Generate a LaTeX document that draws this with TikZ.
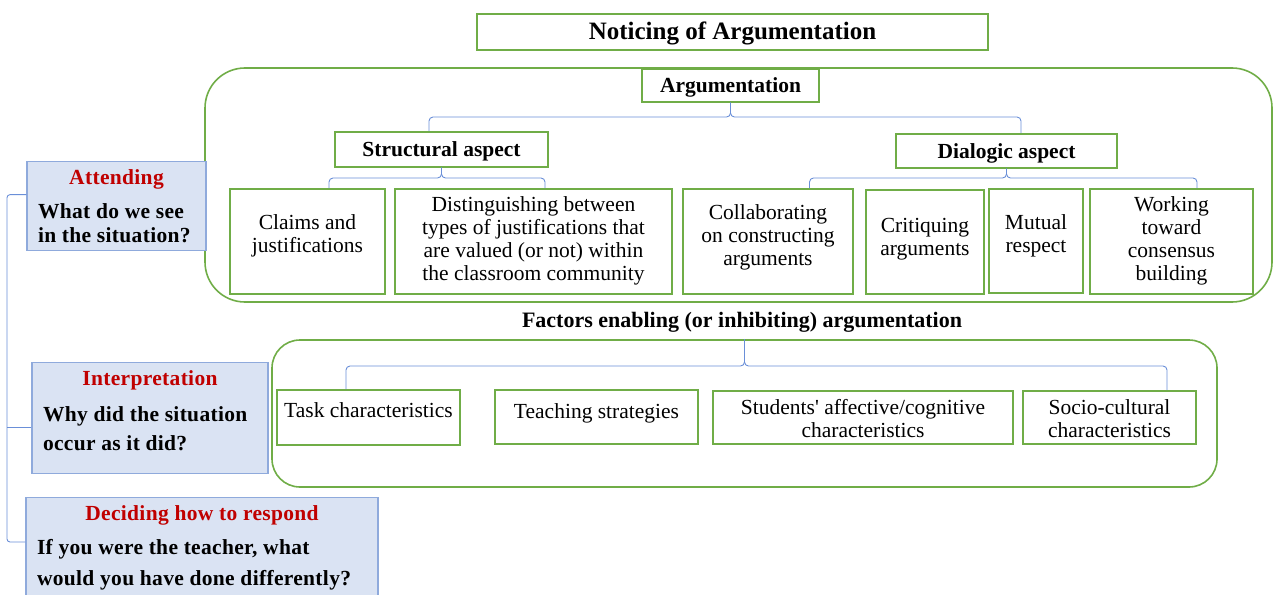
\documentclass[tikz,border=0pt]{standalone}
\usepackage{fontspec}
\setmainfont{Liberation Serif}
\newfontfamily\qf{Liberation Serif}
\definecolor{G}{HTML}{70AD47}
\definecolor{BF}{HTML}{DAE3F3}
\definecolor{BD}{HTML}{8FAADC}
\definecolor{BL}{HTML}{6A8FD8}
\definecolor{R}{HTML}{C00000}
\newcommand{\rg}{\fontsize{21.5}{23}\selectfont}
\newcommand{\bd}{\fontsize{21.5}{23}\selectfont\bfseries}
\newcommand{\tc}[1]{\begin{tabular}[t]{@{}c@{}}#1\end{tabular}}
\newcommand{\tlft}[1]{\begin{tabular}[t]{@{}l@{}}#1\end{tabular}}
\begin{document}
\begin{tikzpicture}[x=1pt,y=-1pt,
  gbox/.style={draw=G,line width=1.6pt,fill=white,inner sep=0pt,font=\rg},
  hbox/.style={gbox,font=\bd},
  frame/.style={draw=G,line width=1.6pt,inner sep=0pt},
  bbox/.style={draw=BD,fill=BF,line width=1.3pt,inner sep=0pt,font=\bd\addfontfeature{LetterSpace=1.5}},
  brace/.style={draw=BL,line width=0.9pt,rounded corners=4pt},
  lbr/.style={draw=BL,line width=0.9pt,rounded corners=3pt},
]
\useasboundingbox (0,0) rectangle (1273,594);

% title
\node[hbox,font=\fontsize{25}{26}\selectfont\bfseries,minimum width=511,text height=26,text depth=10] (title) at (732.5,13) [anchor=north] {Noticing of Argumentation};

% argumentation frame
\node[frame,rounded corners=40pt,minimum width=1067,minimum height=234] (argframe) at (738.5,185) {};
\node[hbox,minimum width=177,text height=24,text depth=9,anchor=north] (arg) at (730.5,68) {Argumentation};
\node[hbox,minimum width=213,text height=25,text depth=10,anchor=north] (struct) at (441.5,131) {Structural aspect};
\node[hbox,minimum width=221,text height=25,text depth=9,anchor=north] (dial) at (1006.5,133) {Dialogic aspect};

\node[gbox,minimum width=155,text height=41,text depth=64,anchor=north] (claims) at (307.5,188) {\tc{Claims and\\justifications}};
\node[gbox,minimum width=277,text height=23,text depth=82,anchor=north] (dist) at (533.5,188) {\tc{Distinguishing between\\types of justifications that\\are valued (or not) within\\the classroom community}};
\node[gbox,minimum width=170,text height=31,text depth=74,anchor=north] (collab) at (768,188) {\tc{Collaborating\\on constructing\\arguments}};
\node[gbox,minimum width=118,text height=43,text depth=61,anchor=north] (crit) at (925,189) {\tc{Critiquing\\arguments}};
\node[gbox,minimum width=94,text height=41,text depth=63,anchor=north] (mutual) at (1036,188) {\tc{Mutual\\respect}};
\node[gbox,minimum width=163,text height=23,text depth=82,anchor=north] (work) at (1171.5,188) {\tc{Working\\toward\\consensus\\building}};

% braces in argumentation frame
\draw[brace] ([xshift=-12.5]struct.north) |- (arg.south |- 0,117) -- (arg.south);
\draw[brace] ([xshift=14.5]dial.north) |- (arg.south |- 0,117) -- (arg.south);
\draw[brace] ([xshift=21.5]claims.north) |- (struct.south |- 0,178) -- (struct.south);
\draw[brace] ([xshift=11.5]dist.north) |- (struct.south |- 0,178) -- (struct.south);
\draw[brace] ([xshift=41.5]collab.north) |- (dial.south |- 0,178) -- (dial.south);
\draw[brace] ([xshift=25.5]work.north) |- (dial.south |- 0,178) -- (dial.south);

% factors
\node[font=\fontsize{22}{23}\selectfont\bfseries,inner sep=0pt] (factitle) at (742,322) {Factors enabling (or inhibiting) argumentation};
\node[frame,rounded corners=28pt,minimum width=945,minimum height=147] (facframe) at (744.5,413.5) {};
\node[gbox,minimum width=183,text height=28,text depth=27,anchor=north] (task) at (368.5,389) {Task characteristics};
\node[gbox,minimum width=203,text height=29,text depth=25,anchor=north] (teach) at (596.5,389) {Teaching strategies};
\node[gbox,minimum width=300,text height=24,text depth=29,anchor=north] (stud) at (863,390) {\tc{Students{\qf'} affective/cognitive\\characteristics}};
\node[gbox,minimum width=173,text height=24,text depth=29,anchor=north] (socio) at (1109.5,390) {\tc{Socio-cultural\\characteristics}};
\draw[brace] ([xshift=-22.5]task.north) |- (facframe.north |- 0,366) -- (facframe.north);
\draw[brace] ([xshift=57.5]socio.north) |- (facframe.north |- 0,366) -- (facframe.north);

% left boxes
\node[bbox,minimum width=179,text height=23,text depth=66,anchor=north] (att) at (116.5,161)
  {\tlft{\makebox[157pt]{\color{R}Attending}\\[11pt]What do we see\\[1pt]in the situation?}};
\node[bbox,minimum width=236,text height=23,text depth=88,anchor=north] (interp) at (150,362)
  {\tlft{\makebox[214pt]{\color{R}Interpretation}\\[13pt]Why did the situation\\[6pt]occur as it did?}};
\node[bbox,minimum width=352,text height=23,text depth=95,anchor=north] (dec) at (202,497)
  {\tlft{\makebox[330pt]{\color{R}Deciding how to respond}\\[11pt]If you were the teacher, what\\[8pt]would you have done differently?}};

\coordinate (lb) at (7,542);
\draw[lbr] ([yshift=11.5]att.west) -| (lb) -- (lb -| dec.west);
\draw[lbr] (interp.west |- 0,427) -- (lb |- 0,427);
\end{tikzpicture}
\end{document}
